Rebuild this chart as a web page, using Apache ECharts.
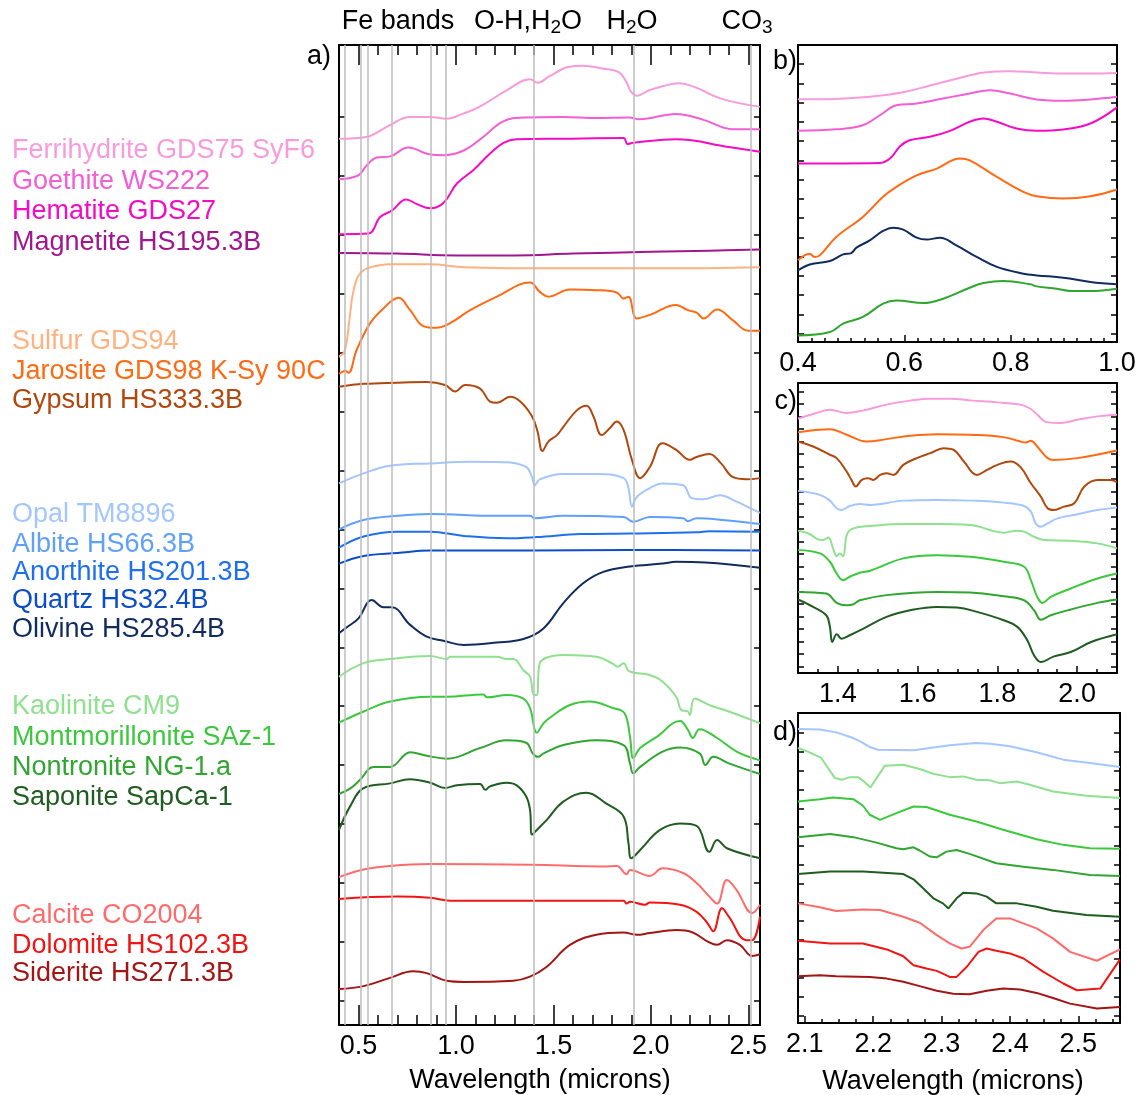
<!DOCTYPE html>
<html><head><meta charset="utf-8">
<script src="https://cdn.jsdelivr.net/npm/echarts@6/dist/echarts.min.js"></script>
<style>html,body{margin:0;padding:0;background:#fff}#c{width:1144px;height:1095px}</style>
</head><body><div id="c"></div>
<script>
// ---------- DATA (wavelength in microns, reflectance with offset in tick units) ----------
// Panel a) 0.4 - 2.56 microns
const ferrihydriteA = [[0.40,14.63],[0.54,14.66],[0.65,14.84],[0.765,15.00],[0.87,15.00],[0.95,14.97],[1.04,15.06],[1.12,15.17],[1.26,15.45],[1.38,15.64],[1.42,15.58],[1.48,15.69],[1.58,15.85],[1.65,15.87],[1.75,15.82],[1.835,15.76],[1.87,15.62],[1.90,15.42],[1.93,15.36],[1.99,15.45],[2.06,15.52],[2.14,15.57],[2.23,15.50],[2.36,15.31],[2.56,15.17]];
const goethiteA = [[0.40,13.94],[0.50,14.01],[0.543,14.18],[0.594,14.31],[0.662,14.33],[0.756,14.48],[0.868,14.36],[0.936,14.35],[1.04,14.43],[1.14,14.66],[1.24,14.92],[1.345,14.99],[1.55,15.00],[1.72,14.98],[1.89,14.99],[1.94,14.96],[2.13,15.05],[2.27,14.95],[2.42,14.79],[2.56,14.79]];
const hematiteA = [[0.40,13.01],[0.551,13.02],[0.611,13.30],[0.671,13.41],[0.745,13.60],[0.80,13.52],[0.868,13.45],[0.936,13.54],[1.005,13.87],[1.09,14.10],[1.175,14.38],[1.244,14.56],[1.31,14.62],[1.55,14.63],[1.86,14.64],[1.88,14.54],[1.91,14.56],[2.13,14.62],[2.40,14.49],[2.56,14.41]];
const magnetiteA = [[0.40,12.69],[0.70,12.68],[1.00,12.65],[1.30,12.65],[1.60,12.68],[2.00,12.71],[2.30,12.73],[2.56,12.75]];
const sulfurA = [[0.40,10.93],[0.425,11.00],[0.44,11.20],[0.455,11.60],[0.47,11.98],[0.49,12.24],[0.51,12.35],[0.543,12.43],[0.662,12.50],[0.868,12.50],[1.04,12.45],[1.55,12.43],[2.06,12.43],[2.56,12.45]];
const jarositeA = [[0.40,10.64],[0.432,10.69],[0.449,10.66],[0.49,11.04],[0.56,11.50],[0.628,11.75],[0.705,11.93],[0.765,11.72],[0.833,11.45],[0.90,11.42],[0.97,11.50],[1.073,11.72],[1.21,11.95],[1.38,12.19],[1.43,12.03],[1.474,11.95],[1.585,12.07],[1.72,12.06],[1.825,12.02],[1.86,11.92],[1.885,11.95],[1.928,11.58],[1.995,11.64],[2.13,11.81],[2.19,11.72],[2.235,11.68],[2.27,11.58],[2.34,11.73],[2.42,11.55],[2.50,11.37],[2.56,11.37]];
const gypsumA = [[0.40,10.42],[0.526,10.47],[0.70,10.49],[0.85,10.50],[0.944,10.45],[0.996,10.34],[1.047,10.45],[1.124,10.39],[1.175,10.17],[1.21,10.15],[1.278,10.25],[1.33,10.17],[1.39,9.92],[1.418,9.67],[1.444,9.33],[1.474,9.49],[1.518,9.60],[1.551,9.74],[1.62,10.02],[1.67,10.10],[1.705,9.92],[1.748,9.60],[1.79,9.72],[1.825,9.83],[1.86,9.69],[1.903,9.18],[1.945,8.87],[1.995,9.06],[2.06,9.46],[2.13,9.35],[2.20,9.18],[2.235,9.23],[2.30,9.28],[2.36,9.12],[2.42,8.89],[2.49,8.85],[2.56,8.87]];
const opalA = [[0.40,8.78],[0.526,8.95],[0.662,9.08],[0.868,9.12],[1.073,9.15],[1.26,9.14],[1.36,9.06],[1.39,8.89],[1.405,8.75],[1.43,8.85],[1.55,8.94],[1.72,8.94],[1.86,8.87],[1.885,8.70],[1.903,8.39],[1.928,8.55],[1.995,8.70],[2.06,8.78],[2.165,8.75],[2.21,8.53],[2.27,8.51],[2.355,8.58],[2.44,8.47],[2.51,8.36],[2.56,8.28]];
const albiteA = [[0.40,8.00],[0.526,8.16],[0.70,8.23],[0.868,8.26],[1.21,8.23],[1.38,8.23],[1.405,8.19],[1.55,8.23],[1.86,8.21],[1.91,8.13],[1.995,8.21],[2.165,8.19],[2.19,8.14],[2.235,8.19],[2.40,8.15],[2.56,8.09]];
const anorthiteA = [[0.40,7.69],[0.526,7.88],[0.70,7.96],[0.868,7.96],[1.04,7.89],[1.26,7.85],[1.415,7.87],[1.64,7.92],[1.89,7.93],[2.235,7.95],[2.30,7.97],[2.56,7.96]];
const quartzA = [[0.40,7.42],[0.526,7.55],[0.70,7.60],[0.868,7.64],[1.38,7.64],[1.89,7.65],[2.56,7.64]];
const olivineA = [[0.40,6.24],[0.449,6.36],[0.50,6.49],[0.568,6.80],[0.628,6.68],[0.671,6.68],[0.765,6.38],[0.85,6.18],[0.936,6.11],[1.04,6.04],[1.21,6.08],[1.346,6.14],[1.449,6.32],[1.551,6.75],[1.654,7.09],[1.756,7.28],[1.893,7.37],[2.06,7.42],[2.13,7.45],[2.28,7.44],[2.56,7.35]];
const kaoliniteA = [[0.40,5.50],[0.526,5.73],[0.662,5.80],[0.868,5.85],[0.953,5.80],[0.97,5.84],[1.21,5.84],[1.26,5.80],[1.295,5.80],[1.346,5.61],[1.38,5.50],[1.40,5.19],[1.415,5.19],[1.43,5.73],[1.48,5.84],[1.55,5.87],[1.72,5.84],[1.805,5.72],[1.83,5.67],[1.86,5.73],[1.89,5.59],[1.995,5.53],[2.06,5.42],[2.13,5.16],[2.155,4.94],[2.19,4.91],[2.20,4.85],[2.225,5.13],[2.30,5.02],[2.40,4.91],[2.56,4.71]];
const montmorilloniteA = [[0.40,4.72],[0.526,4.91],[0.662,5.08],[0.868,5.16],[0.953,5.16],[1.14,5.20],[1.16,5.15],[1.26,5.19],[1.346,5.13],[1.38,4.97],[1.415,4.55],[1.449,4.71],[1.48,4.80],[1.585,5.02],[1.687,5.08],[1.805,4.97],[1.865,4.88],[1.893,4.48],[1.91,4.12],[1.945,4.29],[2.03,4.48],[2.15,4.75],[2.19,4.60],[2.215,4.46],[2.25,4.61],[2.34,4.46],[2.44,4.23],[2.56,4.08]];
const nontroniteA = [[0.40,3.51],[0.457,3.60],[0.508,3.75],[0.577,3.97],[0.662,3.97],[0.765,4.22],[0.85,4.16],[0.953,4.11],[1.124,4.29],[1.26,4.42],[1.36,4.38],[1.394,4.20],[1.42,4.14],[1.45,4.20],[1.551,4.34],[1.72,4.42],[1.86,4.34],[1.893,4.03],[1.91,3.86],[1.945,3.97],[2.06,4.23],[2.15,4.30],[2.25,4.20],[2.28,4.00],[2.32,4.14],[2.40,4.03],[2.56,3.85]];
const saponiteA = [[0.40,2.90],[0.457,3.30],[0.526,3.61],[0.662,3.69],[0.765,3.76],[0.868,3.70],[0.944,3.61],[1.005,3.66],[1.124,3.68],[1.15,3.58],[1.175,3.64],[1.26,3.70],[1.31,3.66],[1.36,3.47],[1.38,3.24],[1.39,2.82],[1.415,2.90],[1.466,3.07],[1.551,3.38],[1.67,3.53],[1.77,3.35],[1.86,3.13],[1.885,2.68],[1.90,2.42],[1.945,2.56],[2.047,2.90],[2.15,3.01],[2.235,2.97],[2.30,2.53],[2.34,2.73],[2.39,2.59],[2.56,2.42]];
const calciteA = [[0.40,2.10],[0.526,2.23],[0.662,2.29],[0.868,2.32],[1.38,2.31],[1.756,2.28],[1.825,2.29],[1.876,2.15],[1.893,2.22],[1.995,2.12],[2.06,2.25],[2.165,2.17],[2.235,2.00],[2.30,1.77],[2.34,1.65],[2.39,2.05],[2.44,1.88],[2.52,1.49],[2.56,1.63]];
const dolomiteA = [[0.40,1.73],[0.70,1.77],[0.868,1.75],[0.97,1.70],[1.38,1.70],[1.86,1.70],[1.876,1.65],[1.893,1.68],[1.97,1.63],[1.995,1.67],[2.15,1.63],[2.235,1.51],[2.29,1.32],[2.32,1.18],[2.365,1.57],[2.40,1.43],[2.49,1.03],[2.52,1.03],[2.56,1.43]];
const sideriteA = [[0.40,0.20],[0.526,0.25],[0.662,0.39],[0.78,0.50],[0.85,0.47],[0.953,0.34],[1.04,0.32],[1.295,0.34],[1.38,0.41],[1.466,0.58],[1.585,0.95],[1.72,1.12],[1.86,1.16],[1.928,1.12],[1.995,1.15],[2.13,1.20],[2.215,1.16],[2.29,1.01],[2.34,0.95],[2.39,1.03],[2.457,0.95],[2.52,0.76],[2.56,0.79]];
const bandLines = [0.435, 0.505, 0.545, 0.67, 0.87, 0.95, 1.395, 1.91, 2.51];

// Panel b) 0.4 - 1.0 microns
const ferrihydriteB = [[0.40,12.18],[0.47,12.20],[0.535,12.31],[0.60,12.56],[0.65,12.91],[0.70,13.26],[0.75,13.57],[0.80,13.64],[0.85,13.57],[0.90,13.52],[0.95,13.52],[1.00,13.55]];
const goethiteB = [[0.40,10.54],[0.472,10.62],[0.522,10.83],[0.554,11.35],[0.585,11.87],[0.623,11.96],[0.673,12.22],[0.723,12.48],[0.761,12.65],[0.799,12.48],[0.849,12.17],[0.899,12.10],[0.95,12.17],[1.00,12.31]];
const hematiteB = [[0.40,8.84],[0.554,8.87],[0.573,9.10],[0.592,9.74],[0.61,10.05],[0.648,10.23],[0.686,10.54],[0.723,11.01],[0.749,11.18],[0.774,11.01],[0.811,10.66],[0.849,10.54],[0.899,10.61],[0.95,10.92],[1.00,11.76]];
const jarositeB = [[0.40,3.81],[0.422,4.16],[0.431,3.99],[0.441,4.07],[0.472,5.03],[0.522,6.07],[0.56,7.11],[0.585,7.63],[0.623,8.23],[0.661,8.58],[0.705,9.10],[0.723,9.01],[0.774,8.15],[0.824,7.37],[0.849,7.14],[0.899,7.02],[0.95,7.14],[1.00,7.49]];
const olivineB = [[0.40,3.29],[0.422,3.60],[0.46,3.78],[0.485,4.12],[0.50,4.19],[0.51,4.47],[0.535,4.85],[0.56,5.34],[0.579,5.51],[0.598,5.41],[0.623,4.99],[0.642,4.89],[0.667,4.99],[0.698,4.59],[0.736,3.99],[0.774,3.47],[0.824,3.12],[0.849,3.03],[0.899,2.91],[0.95,2.69],[1.00,2.57]];
const nontroniteB = [[0.40,-0.09],[0.46,0.09],[0.485,0.52],[0.522,0.87],[0.56,1.56],[0.585,1.73],[0.636,1.59],[0.673,1.82],[0.723,2.39],[0.749,2.63],[0.786,2.74],[0.837,2.57],[0.849,2.46],[0.887,2.34],[0.912,2.22],[0.95,2.22],[1.00,2.34]];

// Panel c) 1.3 - 2.1 microns
const ferrihydriteC = [[1.30,19.81],[1.346,20.27],[1.38,20.53],[1.422,20.27],[1.464,20.48],[1.522,20.94],[1.581,21.26],[1.632,21.42],[1.682,21.42],[1.732,21.28],[1.80,21.12],[1.858,20.94],[1.884,20.59],[1.90,20.13],[1.926,19.52],[1.959,19.47],[2.001,19.73],[2.051,20.00],[2.10,20.13]];
const jarositeC = [[1.30,18.72],[1.38,18.98],[1.422,18.53],[1.472,17.99],[1.522,18.18],[1.581,18.45],[1.648,18.58],[1.732,18.53],[1.816,18.34],[1.858,17.99],[1.871,17.91],[1.884,18.05],[1.90,17.59],[1.926,16.66],[1.942,16.52],[2.001,16.66],[2.10,17.27]];
const gypsumC = [[1.30,17.99],[1.338,17.59],[1.38,16.93],[1.397,16.66],[1.422,15.59],[1.434,14.92],[1.445,14.39],[1.46,14.92],[1.476,15.05],[1.489,14.92],[1.506,15.32],[1.522,15.45],[1.539,15.32],[1.564,16.12],[1.598,16.66],[1.632,17.06],[1.665,17.46],[1.69,17.33],[1.716,16.39],[1.749,15.32],[1.774,15.72],[1.80,16.12],[1.833,16.39],[1.858,15.94],[1.884,14.65],[1.909,13.58],[1.926,12.65],[1.942,12.51],[1.967,12.78],[1.993,13.05],[2.018,14.39],[2.051,14.92],[2.085,14.92],[2.10,14.71]];
const opalC = [[1.30,14.04],[1.355,13.72],[1.38,13.26],[1.397,12.65],[1.409,12.51],[1.43,12.83],[1.455,12.99],[1.481,12.91],[1.564,13.26],[1.648,13.32],[1.732,13.26],[1.816,13.10],[1.867,12.83],[1.884,12.38],[1.896,11.44],[1.909,11.18],[1.926,11.44],[1.951,11.84],[2.001,12.17],[2.051,12.51],[2.10,12.70]];
const kaoliniteC = [[1.30,10.86],[1.329,10.59],[1.35,10.16],[1.363,10.11],[1.376,10.32],[1.388,9.44],[1.397,8.82],[1.405,9.04],[1.413,8.82],[1.423,10.59],[1.439,11.04],[1.481,11.23],[1.564,11.39],[1.648,11.39],[1.732,11.31],[1.816,10.70],[1.85,10.86],[1.867,10.78],[1.892,10.37],[1.917,10.11],[1.984,10.05],[2.051,9.84],[2.10,9.44]];
const montmorilloniteC = [[1.30,9.30],[1.355,9.04],[1.38,8.37],[1.397,7.43],[1.413,6.90],[1.43,7.17],[1.455,7.49],[1.481,7.65],[1.564,8.64],[1.648,8.90],[1.732,8.77],[1.816,8.37],[1.867,7.97],[1.884,6.90],[1.90,5.56],[1.913,5.08],[1.934,5.56],[1.984,6.23],[2.051,7.03],[2.10,7.43]];
const nontroniteC = [[1.30,5.96],[1.371,5.83],[1.397,5.08],[1.422,4.89],[1.439,4.97],[1.455,5.29],[1.522,5.70],[1.648,5.96],[1.732,5.91],[1.816,5.61],[1.867,5.29],[1.892,4.49],[1.909,3.74],[1.934,4.09],[1.984,4.55],[2.051,5.08],[2.10,5.35]];
const saponiteC = [[1.30,5.35],[1.338,4.76],[1.371,4.09],[1.38,3.16],[1.386,1.95],[1.397,2.57],[1.409,2.22],[1.43,2.49],[1.464,3.02],[1.522,3.96],[1.581,4.49],[1.648,4.76],[1.699,4.71],[1.749,4.36],[1.816,3.69],[1.85,3.16],[1.875,2.09],[1.892,0.88],[1.909,0.35],[1.942,0.80],[1.984,1.15],[2.035,1.95],[2.10,2.57]];

// Panel d) 2.09 - 2.56 microns
const opalD = [[2.09,15.22],[2.122,15.19],[2.146,15.04],[2.171,14.74],[2.185,14.48],[2.195,14.26],[2.207,14.12],[2.259,14.09],[2.283,14.21],[2.312,14.35],[2.351,14.48],[2.371,14.44],[2.40,14.30],[2.439,13.98],[2.478,13.59],[2.517,13.41],[2.561,13.20]];
const kaoliniteD = [[2.09,14.21],[2.107,13.98],[2.124,13.68],[2.134,13.14],[2.144,12.61],[2.154,12.52],[2.166,12.66],[2.178,12.66],[2.188,12.38],[2.196,12.11],[2.205,12.61],[2.217,13.27],[2.244,13.32],[2.268,13.09],[2.288,12.84],[2.312,12.66],[2.332,12.70],[2.351,12.52],[2.371,12.49],[2.385,12.34],[2.41,12.43],[2.429,12.26],[2.463,11.90],[2.512,11.67],[2.561,11.55]];
const montmorilloniteD = [[2.09,11.37],[2.122,11.49],[2.141,11.58],[2.171,11.49],[2.185,11.14],[2.195,10.66],[2.21,10.39],[2.234,10.75],[2.259,11.10],[2.278,11.07],[2.312,10.66],[2.351,10.30],[2.39,9.86],[2.439,9.36],[2.478,9.06],[2.517,8.88],[2.561,8.85]];
const nontroniteD = [[2.09,9.47],[2.137,9.64],[2.171,9.47],[2.205,9.18],[2.234,8.88],[2.244,8.83],[2.259,8.93],[2.268,8.76],[2.283,8.44],[2.293,8.40],[2.307,8.70],[2.322,8.79],[2.341,8.58],[2.38,8.08],[2.42,7.90],[2.463,7.73],[2.517,7.46],[2.561,7.41]];
const saponiteD = [[2.09,7.51],[2.137,7.64],[2.185,7.64],[2.215,7.58],[2.244,7.51],[2.259,7.23],[2.273,6.75],[2.288,6.22],[2.302,5.95],[2.31,5.68],[2.322,6.22],[2.332,6.52],[2.351,6.48],[2.366,6.31],[2.38,5.95],[2.41,5.95],[2.439,5.77],[2.463,5.56],[2.512,5.33],[2.561,5.24]];
const calciteD = [[2.09,5.95],[2.122,5.74],[2.146,5.54],[2.185,5.63],[2.21,5.60],[2.244,5.24],[2.268,4.92],[2.293,4.26],[2.312,3.82],[2.329,3.55],[2.341,3.64],[2.361,4.53],[2.38,5.15],[2.40,5.15],[2.439,4.62],[2.463,4.09],[2.488,3.37],[2.527,2.90],[2.561,3.50]];
const dolomiteD = [[2.09,3.96],[2.137,3.82],[2.185,3.82],[2.22,3.50],[2.244,3.14],[2.259,2.66],[2.278,2.49],[2.293,2.36],[2.312,2.04],[2.322,2.04],[2.337,2.58],[2.354,3.37],[2.366,3.55],[2.38,3.43],[2.40,3.29],[2.42,3.02],[2.449,2.31],[2.478,1.69],[2.498,1.33],[2.532,1.42],[2.561,2.97]];
const sideriteD = [[2.09,2.08],[2.122,2.13],[2.146,2.08],[2.195,2.04],[2.22,1.95],[2.244,1.78],[2.268,1.55],[2.293,1.30],[2.317,1.15],[2.341,1.12],[2.366,1.30],[2.39,1.42],[2.415,1.37],[2.439,1.19],[2.463,0.92],[2.488,0.62],[2.527,0.36],[2.561,0.44]];

// Labels
const mineralNames = ["Ferrihydrite GDS75 SyF6","Goethite WS222","Hematite GDS27","Magnetite HS195.3B","Sulfur GDS94","Jarosite GDS98 K-Sy 90C","Gypsum HS333.3B","Opal TM8896","Albite HS66.3B","Anorthite HS201.3B","Quartz HS32.4B","Olivine HS285.4B","Kaolinite CM9","Montmorillonite SAz-1","Nontronite NG-1.a","Saponite SapCa-1","Calcite CO2004","Dolomite HS102.3B","Siderite HS271.3B"];
const bandLabels = ["Fe bands","O-H,H{s|2}O","H{s|2}O","CO{s|3}"];
const xMajorA = [0.5,1.0,1.5,2.0,2.5];
const xMajorB = [0.4,0.6,0.8,1.0];
const xMajorC = [1.4,1.6,1.8,2.0];
const xMajorD = [2.1,2.2,2.3,2.4,2.5];

// ---------- STYLE ----------
const FONT = "'Liberation Sans', Arial, Helvetica, sans-serif";
const FS = 27;
const C = {
  ferri:'#F79BDC', goeth:'#F25ED3', hem:'#F50AC5', mag:'#A0168F',
  sulfur:'#FFB27F', jaro:'#FF6A13', gyp:'#B0480E',
  opal:'#A3C6FF', albite:'#5FA0FA', anorth:'#1E6FF0', quartz:'#0B4DC8', olivine:'#102B5E',
  kaol:'#8FE08F', mont:'#3CC83C', nont:'#31A531', sap:'#1F5C1F',
  calc:'#FF6B6B', dolo:'#F01414', sid:'#A31515'
};
const labelColors = [C.ferri,C.goeth,C.hem,C.mag,C.sulfur,C.jaro,C.gyp,C.opal,C.albite,C.anorth,C.quartz,C.olivine,C.kaol,C.mont,C.nont,C.sap,C.calc,C.dolo,C.sid];
const labelY = [151,182,212,243,342,372,401,515,545,573,601,630,707,738,768,798,916,946,974];

const grids = [
  {left:339, top:45, width:421, height:980},
  {left:798, top:45, width:319, height:297},
  {left:798, top:383, width:319, height:290},
  {left:798, top:713, width:322, height:310}
];
const ranges = [
  {x:[0.4,2.56], y:[-0.41,16.22], yt:16},
  {x:[0.4,1.0], y:[-0.43,15.0], yt:15},
  {x:[1.3,2.1], y:[-0.53,22.67], yt:23},
  {x:[2.09,2.561], y:[-0.41,16.07], yt:16}
];

function steps(a,b,s){const r=[];for(let v=a;v<=b+1e-9;v+=s){r.push(Math.round(v*1000)/1000);}return r;}
function minorsOf(all, majors){return all.filter(v=>!majors.some(m=>Math.abs(m-v)<1e-6));}

const xAxes=[], yAxes=[], mainX=[], mainY=[];
const black = {color:'#000', width:2};
function addX(gi,pos,ticks,len,labels,line){
  xAxes.push({type:'value', gridIndex:gi, position:pos, min:ranges[gi].x[0], max:ranges[gi].x[1],
    axisLine:{show:line, onZero:false, lineStyle:black},
    axisTick:{show:ticks.length>0, inside:true, length:len, customValues:ticks.length?ticks:undefined, lineStyle:{color:'#000',width:1.5}},
    axisLabel: labels ? {show:true, customValues:labels, formatter:v=>v.toFixed(1), fontSize:FS, color:'#000', fontFamily:FONT, margin:8, showMinLabel:true, showMaxLabel:true, hideOverlap:false} : {show:false},
    splitLine:{show:false}});
  return xAxes.length-1;
}
function addY(gi,pos,ticks){
  yAxes.push({type:'value', gridIndex:gi, position:pos, min:ranges[gi].y[0], max:ranges[gi].y[1],
    axisLine:{show:true, onZero:false, lineStyle:black},
    axisTick:{show:true, inside:true, length:6, customValues:ticks, lineStyle:{color:'#000',width:1.5}},
    axisLabel:{show:false}, splitLine:{show:false}});
  return yAxes.length-1;
}
// panel a
mainX[0]=addX(0,'bottom',xMajorA,20,xMajorA,true);
addX(0,'bottom',minorsOf(steps(0.4,2.5,0.1),xMajorA),10,null,false);
addX(0,'top',xMajorA,20,null,true);
addX(0,'top',minorsOf(steps(0.4,2.5,0.1),xMajorA),10,null,false);
// panel b
mainX[1]=addX(1,'bottom',xMajorB,7,xMajorB,true);
addX(1,'bottom',minorsOf(steps(0.4,1.0,0.025),xMajorB),4,null,false);
addX(1,'top',[],0,null,true);
// panel c
mainX[2]=addX(2,'bottom',xMajorC,7,xMajorC,true);
addX(2,'bottom',minorsOf(steps(1.3,2.1,0.05),xMajorC),4,null,false);
addX(2,'top',[],0,null,true);
// panel d
mainX[3]=addX(3,'bottom',xMajorD,7,xMajorD,true);
addX(3,'bottom',minorsOf(steps(2.1,2.55,0.025),xMajorD),4,null,false);
addX(3,'top',[],0,null,true);
for(let g=0;g<4;g++){
  const t=steps(0,ranges[g].yt-1,1);
  mainY[g]=addY(g,'left',t);
  addY(g,'right',t);
}

const series=[];
function line(g,data,color){
  series.push({type:'line', xAxisIndex:mainX[g], yAxisIndex:mainY[g], data, symbol:'none',
    smooth: g===3 ? false : 0.4, z:3, silent:true,
    lineStyle:{color, width:2}, clip:true});
}
// band lines
series.push({type:'line', xAxisIndex:mainX[0], yAxisIndex:mainY[0], data:[], z:1, silent:true,
  markLine:{silent:true, symbol:'none', label:{show:false},
    lineStyle:{color:'#BDBDBD', width:1.5, type:'solid'},
    data: bandLines.map(v=>({xAxis:v}))}});

[[ferrihydriteA,C.ferri],[goethiteA,C.goeth],[hematiteA,C.hem],[magnetiteA,C.mag],[sulfurA,C.sulfur],[jarositeA,C.jaro],[gypsumA,C.gyp],[opalA,C.opal],[albiteA,C.albite],[anorthiteA,C.anorth],[quartzA,C.quartz],[olivineA,C.olivine],[kaoliniteA,C.kaol],[montmorilloniteA,C.mont],[nontroniteA,C.nont],[saponiteA,C.sap],[calciteA,C.calc],[dolomiteA,C.dolo],[sideriteA,C.sid]].forEach(s=>line(0,s[0],s[1]));
[[ferrihydriteB,C.ferri],[goethiteB,C.goeth],[hematiteB,C.hem],[jarositeB,C.jaro],[olivineB,C.olivine],[nontroniteB,C.nont]].forEach(s=>line(1,s[0],s[1]));
[[ferrihydriteC,C.ferri],[jarositeC,C.jaro],[gypsumC,C.gyp],[opalC,C.opal],[kaoliniteC,C.kaol],[montmorilloniteC,C.mont],[nontroniteC,C.nont],[saponiteC,C.sap]].forEach(s=>line(2,s[0],s[1]));
[[opalD,C.opal],[kaoliniteD,C.kaol],[montmorilloniteD,C.mont],[nontroniteD,C.nont],[saponiteD,C.sap],[calciteD,C.calc],[dolomiteD,C.dolo],[sideriteD,C.sid]].forEach(s=>line(3,s[0],s[1]));

const graphics=[];
function txt(text,x,y,fill,align,size,rich){
  graphics.push({type:'text', silent:true, style:{text, x, y, fill, font:`${size||FS}px ${FONT}`, align:align||'left', verticalAlign:'middle', textAlign:align||'left', textVerticalAlign:'middle', rich}});
}
mineralNames.forEach((n,i)=>txt(n,12,labelY[i],labelColors[i]));
const subRich = {s:{fontSize:19, fontFamily:FONT, fill:'#000', padding:[12,0,0,0]}};
const bandX=[398,528,632,747];
bandLabels.forEach((t,i)=>txt(t,bandX[i],22,'#000','center',FS,subRich));
txt('a)',331,57,'#000','right');
txt('b)',797,62,'#000','right');
txt('c)',797,402,'#000','right');
txt('d)',797,733,'#000','right');
txt('Wavelength (microns)',540,1081,'#000','center');
txt('Wavelength (microns)',953,1082,'#000','center');

const chart = echarts.init(document.getElementById('c'), null, {renderer:'canvas'});
chart.setOption({
  animation:false, backgroundColor:'#fff',
  grid: grids.map(g=>Object.assign({containLabel:false},g)),
  xAxis:xAxes, yAxis:yAxes, series, graphic:graphics
});
</script></body></html>
